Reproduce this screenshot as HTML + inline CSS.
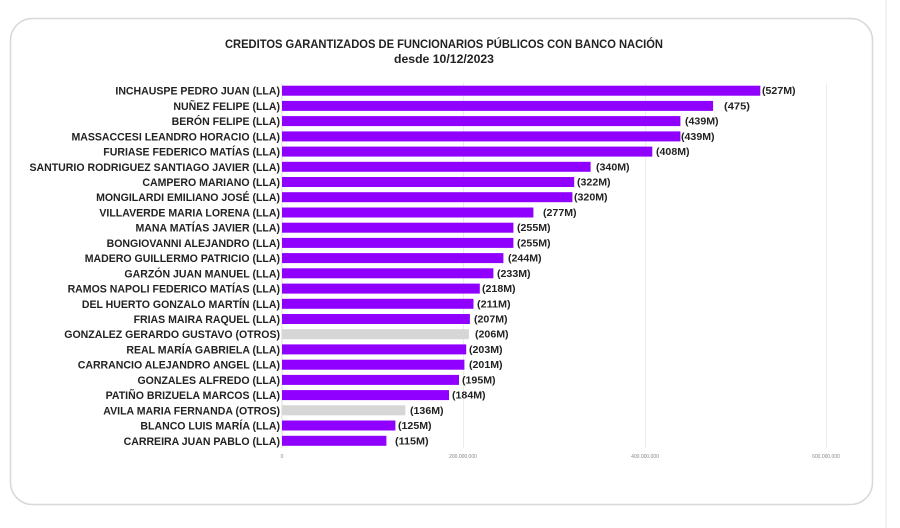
<!DOCTYPE html>
<html><head><meta charset="utf-8"><style>
html,body{margin:0;padding:0;background:#fff;}
svg{display:block;}
text{font-family:"Liberation Sans",sans-serif;font-weight:bold;fill:#222;}
.l{font-size:11px;text-anchor:end;}
.v{font-size:10.5px;}
.t{font-size:5px;font-weight:normal;fill:#888;text-anchor:middle;}
</style></head><body>
<svg width="900" height="528" viewBox="0 0 900 528" xmlns="http://www.w3.org/2000/svg">
<rect x="10.5" y="18.5" width="862" height="486" rx="22" fill="#fff" stroke="#d8d8d8" stroke-width="1.5"/>
<line x1="886" y1="0" x2="886" y2="528" stroke="#e6e6e6" stroke-width="1"/>
<text x="444" y="48" font-size="11.5" text-anchor="middle" textLength="438" lengthAdjust="spacingAndGlyphs">CREDITOS GARANTIZADOS DE FUNCIONARIOS PÚBLICOS CON BANCO NACIÓN</text>
<text x="444" y="63" font-size="11.5" text-anchor="middle" textLength="100" lengthAdjust="spacingAndGlyphs">desde 10/12/2023</text>
<g stroke="#ececec" stroke-width="1">
<line x1="463.5" y1="83" x2="463.5" y2="448"/>
<line x1="645.5" y1="83" x2="645.5" y2="448"/>
<line x1="826.5" y1="83" x2="826.5" y2="448"/>
</g>
<line x1="282" y1="83" x2="282" y2="448" stroke="#ddd"/>
<g fill="#8f00ff">
<rect x="282" y="85.7" width="478.3" height="10"/>
<rect x="282" y="100.9" width="431.1" height="10"/>
<rect x="282" y="116.1" width="398.4" height="10"/>
<rect x="282" y="131.4" width="398.4" height="10"/>
<rect x="282" y="146.6" width="370.3" height="10"/>
<rect x="282" y="161.8" width="308.6" height="10"/>
<rect x="282" y="177.0" width="292.2" height="10"/>
<rect x="282" y="192.2" width="290.4" height="10"/>
<rect x="282" y="207.5" width="251.4" height="10"/>
<rect x="282" y="222.7" width="231.4" height="10"/>
<rect x="282" y="237.9" width="231.4" height="10"/>
<rect x="282" y="253.1" width="221.4" height="10"/>
<rect x="282" y="268.3" width="211.4" height="10"/>
<rect x="282" y="283.6" width="197.8" height="10"/>
<rect x="282" y="298.8" width="191.5" height="10"/>
<rect x="282" y="314.0" width="187.9" height="10"/>
<rect x="282" y="329.2" width="186.9" height="10" fill="#d6d6d6"/>
<rect x="282" y="344.4" width="184.2" height="10"/>
<rect x="282" y="359.7" width="182.4" height="10"/>
<rect x="282" y="374.9" width="177.0" height="10"/>
<rect x="282" y="390.1" width="167.0" height="10"/>
<rect x="282" y="405.3" width="123.4" height="10" fill="#d6d6d6"/>
<rect x="282" y="420.5" width="113.4" height="10"/>
<rect x="282" y="435.8" width="104.4" height="10"/>
</g>
<text class="l" transform="translate(280,94.7) scale(0.96,1)">INCHAUSPE PEDRO JUAN (LLA)</text>
<text class="l" transform="translate(280,109.9) scale(0.96,1)">NUÑEZ FELIPE (LLA)</text>
<text class="l" transform="translate(280,125.1) scale(0.96,1)">BERÓN FELIPE (LLA)</text>
<text class="l" transform="translate(280,140.4) scale(0.96,1)">MASSACCESI LEANDRO HORACIO (LLA)</text>
<text class="l" transform="translate(280,155.6) scale(0.96,1)">FURIASE FEDERICO MATÍAS (LLA)</text>
<text class="l" transform="translate(280,170.8) scale(0.96,1)">SANTURIO RODRIGUEZ SANTIAGO JAVIER (LLA)</text>
<text class="l" transform="translate(280,186.0) scale(0.96,1)">CAMPERO MARIANO (LLA)</text>
<text class="l" transform="translate(280,201.2) scale(0.96,1)">MONGILARDI EMILIANO JOSÉ (LLA)</text>
<text class="l" transform="translate(280,216.5) scale(0.96,1)">VILLAVERDE MARIA LORENA (LLA)</text>
<text class="l" transform="translate(280,231.7) scale(0.96,1)">MANA MATÍAS JAVIER (LLA)</text>
<text class="l" transform="translate(280,246.9) scale(0.96,1)">BONGIOVANNI ALEJANDRO (LLA)</text>
<text class="l" transform="translate(280,262.1) scale(0.96,1)">MADERO GUILLERMO PATRICIO (LLA)</text>
<text class="l" transform="translate(280,277.3) scale(0.96,1)">GARZÓN JUAN MANUEL (LLA)</text>
<text class="l" transform="translate(280,292.6) scale(0.96,1)">RAMOS NAPOLI FEDERICO MATÍAS (LLA)</text>
<text class="l" transform="translate(280,307.8) scale(0.96,1)">DEL HUERTO GONZALO MARTÍN (LLA)</text>
<text class="l" transform="translate(280,323.0) scale(0.96,1)">FRIAS MAIRA RAQUEL (LLA)</text>
<text class="l" transform="translate(280,338.2) scale(0.96,1)">GONZALEZ GERARDO GUSTAVO (OTROS)</text>
<text class="l" transform="translate(280,353.4) scale(0.96,1)">REAL MARÍA GABRIELA (LLA)</text>
<text class="l" transform="translate(280,368.7) scale(0.96,1)">CARRANCIO ALEJANDRO ANGEL (LLA)</text>
<text class="l" transform="translate(280,383.9) scale(0.96,1)">GONZALES ALFREDO (LLA)</text>
<text class="l" transform="translate(280,399.1) scale(0.96,1)">PATIÑO BRIZUELA MARCOS (LLA)</text>
<text class="l" transform="translate(280,414.3) scale(0.96,1)">AVILA MARIA FERNANDA (OTROS)</text>
<text class="l" transform="translate(280,429.5) scale(0.96,1)">BLANCO LUIS MARÍA  (LLA)</text>
<text class="l" transform="translate(280,444.8) scale(0.96,1)">CARREIRA JUAN PABLO (LLA)</text>
<text class="v" x="762" y="94.2" textLength="33.6" lengthAdjust="spacingAndGlyphs">(527M)</text>
<text class="v" x="724" y="109.4" textLength="26" lengthAdjust="spacingAndGlyphs">(475)</text>
<text class="v" x="685" y="124.6" textLength="33.6" lengthAdjust="spacingAndGlyphs">(439M)</text>
<text class="v" x="681" y="139.9" textLength="33.6" lengthAdjust="spacingAndGlyphs">(439M)</text>
<text class="v" x="656" y="155.1" textLength="33.6" lengthAdjust="spacingAndGlyphs">(408M)</text>
<text class="v" x="596" y="170.3" textLength="33.6" lengthAdjust="spacingAndGlyphs">(340M)</text>
<text class="v" x="577" y="185.5" textLength="33.6" lengthAdjust="spacingAndGlyphs">(322M)</text>
<text class="v" x="574" y="200.7" textLength="33.6" lengthAdjust="spacingAndGlyphs">(320M)</text>
<text class="v" x="543" y="216.0" textLength="33.6" lengthAdjust="spacingAndGlyphs">(277M)</text>
<text class="v" x="517" y="231.2" textLength="33.6" lengthAdjust="spacingAndGlyphs">(255M)</text>
<text class="v" x="517" y="246.4" textLength="33.6" lengthAdjust="spacingAndGlyphs">(255M)</text>
<text class="v" x="508" y="261.6" textLength="33.6" lengthAdjust="spacingAndGlyphs">(244M)</text>
<text class="v" x="497" y="276.8" textLength="33.6" lengthAdjust="spacingAndGlyphs">(233M)</text>
<text class="v" x="482" y="292.1" textLength="33.6" lengthAdjust="spacingAndGlyphs">(218M)</text>
<text class="v" x="477" y="307.3" textLength="33.6" lengthAdjust="spacingAndGlyphs">(211M)</text>
<text class="v" x="474" y="322.5" textLength="33.6" lengthAdjust="spacingAndGlyphs">(207M)</text>
<text class="v" x="475" y="337.7" textLength="33.6" lengthAdjust="spacingAndGlyphs">(206M)</text>
<text class="v" x="469" y="352.9" textLength="33.6" lengthAdjust="spacingAndGlyphs">(203M)</text>
<text class="v" x="469" y="368.2" textLength="33.6" lengthAdjust="spacingAndGlyphs">(201M)</text>
<text class="v" x="462" y="383.4" textLength="33.6" lengthAdjust="spacingAndGlyphs">(195M)</text>
<text class="v" x="452" y="398.6" textLength="33.6" lengthAdjust="spacingAndGlyphs">(184M)</text>
<text class="v" x="410" y="413.8" textLength="33.6" lengthAdjust="spacingAndGlyphs">(136M)</text>
<text class="v" x="398" y="429.0" textLength="33.6" lengthAdjust="spacingAndGlyphs">(125M)</text>
<text class="v" x="395" y="444.3" textLength="33.6" lengthAdjust="spacingAndGlyphs">(115M)</text>
<text class="t" x="282" y="458">0</text>
<text class="t" x="463" y="458">200.000.000</text>
<text class="t" x="645" y="458">400.000.000</text>
<text class="t" x="826" y="458">600.000.000</text>
</svg>
</body></html>
